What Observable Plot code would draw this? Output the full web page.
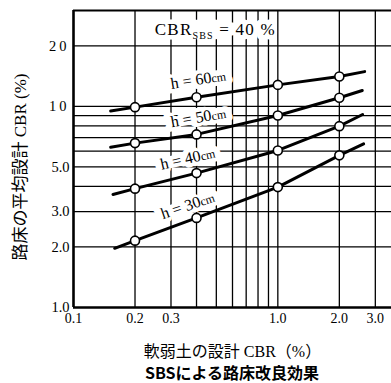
<!DOCTYPE html>
<html>
<head>
<meta charset="utf-8">
<script src="https://cdn.jsdelivr.net/npm/d3@7"></script>
<script src="https://cdn.jsdelivr.net/npm/@observablehq/plot@0.6"></script>
<style>
  body { margin: 0; background: #fff; }
  #caption { width: 391px; box-sizing: border-box; padding-left: 73px; text-align: center;
    font-family: "Noto Sans CJK JP", sans-serif; font-weight: bold; font-size: 16px;
    line-height: 20px; color: #000; }
</style>
</head>
<body>
<div id="chart"></div>
<div id="caption">SBSによる路床改良効果</div>
<script>
// ---- data ----
const xTicks = [0.1, 0.2, 0.3, 0.5, 1, 2, 3];
const yTicks = [1, 2, 3, 5, 10, 20];
const xGrid = [0.2, 0.3, 0.4, 0.5, 0.6, 0.7, 0.8, 0.9, 1, 2, 3];
const yGrid = [2, 3, 4, 5, 6, 7, 8, 9, 10, 20];

const softCBR = [0.2, 0.4, 1.0, 2.0];          // 軟弱土の設計CBR at the circles
const h30 = [2.15, 2.79, 3.97, 5.71];
const h40 = [3.90, 4.66, 6.04, 7.98];
const h50 = [6.57, 7.26, 9.02, 11.05];
const h60 = [9.92, 11.1, 12.8, 14.1];

const seriesNames = ["30", "40", "50", "60"];
const seriesValues = [h30, h40, h50, h60];
const startX = [0.159, 0.156, 0.152, 0.152];
const startY = [1.97, 3.65, 6.27, 9.48];
const endX = [2.63, 2.60, 2.59, 2.66];
const endY = [6.52, 9.12, 12.0, 14.9];

const labelX = [0.362, 0.362, 0.408, 0.408];
const labelY = [3.22, 5.51, 8.82, 13.6];
const labelAngle = [-19, -13, -10, -9];

const noteText = ["CBRSBS = 40 %"];
const noteX = [0.25];
const noteY = [24];

const xTitle = "軟弱土の設計 CBR（%）";
const yTitle = "路床の平均設計 CBR (%)";

// ---- tables ----
const lines = [];
const points = [];
seriesNames.forEach((h, i) => {
  lines.push({h, x: startX[i], y: startY[i]});
  softCBR.forEach((x, j) => {
    lines.push({h, x, y: seriesValues[i][j]});
    points.push({h, x, y: seriesValues[i][j]});
  });
  lines.push({h, x: endX[i], y: endY[i]});
});
const labels = seriesNames.map((h, i) => ({text: `h = ${h}cm`, x: labelX[i], y: labelY[i], a: labelAngle[i]}));
const notes = noteText.map((t, i) => ({text: t, x: noteX[i], y: noteY[i]}));

const serif = "'Liberation Serif', 'Noto Sans CJK JP', serif";
const noteOpts = {x: "x", y: "y", text: "text", textAnchor: "start", fontSize: 17};
const labelOpts = {x: "x", y: "y", text: "text", rotate: "a", fontSize: 16};

const chart = Plot.plot({
  width: 391,
  height: 362,
  marginLeft: 73,
  marginRight: 0,
  marginTop: 10,
  marginBottom: 55,
  style: {fontFamily: serif, fontSize: "14px", color: "#000", background: "#fff"},
  x: {type: "log", domain: [0.1, 3.6]},
  y: {type: "log", domain: [1, 30]},
  marks: [
    Plot.ruleX(xGrid, {stroke: "#000", strokeWidth: 1.3}),
    Plot.ruleY(yGrid, {stroke: "#000", strokeWidth: 1.3}),
    Plot.ruleY([30], {stroke: "#000", strokeWidth: 2}),
    Plot.ruleX([0.1], {stroke: "#000", strokeWidth: 2.6}),
    Plot.ruleY([1], {stroke: "#000", strokeWidth: 2.6}),
    // white knock-out behind the annotations (drawn first, left as plain text)
    Plot.text(notes, {...noteOpts, fill: "#fff", stroke: "#fff", strokeWidth: 9, letterSpacing: 1.2}),
    Plot.text(labels, {...labelOpts, fill: "#fff", stroke: "#fff", strokeWidth: 8}),
    // annotations themselves
    Plot.text(notes, {...noteOpts, fill: "#000"}),
    Plot.text(labels, {...labelOpts, fill: "#000"}),
    Plot.line(lines, {x: "x", y: "y", z: "h", stroke: "#000", strokeWidth: 3}),
    Plot.dot(points, {x: "x", y: "y", r: 4.5, fill: "#fff", stroke: "#000", strokeWidth: 1.6}),
    Plot.axisX(xTicks, {tickSize: 0, tickPadding: 6, tickFormat: d3.format(".1f"), label: null, fontSize: 14}),
    Plot.axisY(yTicks, {tickSize: 0, tickPadding: 4, tickFormat: d => d < 10 ? d3.format(".1f")(d) : String(d), label: null, fontSize: 14.5}),
    Plot.text([xTitle], {frameAnchor: "bottom", dy: 44, text: d => d, fontSize: 16, lineAnchor: "middle", textAnchor: "middle"}),
    Plot.text([yTitle], {frameAnchor: "left", dx: -53, dy: 8, rotate: -90, text: d => d, fontSize: 17, lineAnchor: "middle", textAnchor: "middle"})
  ]
});
document.getElementById("chart").appendChild(chart);

// typographic refinements on the visible (black) annotation layer only:
// subscript SBS, smaller "cm"; spaced two-digit tick labels
const svgns = "http://www.w3.org/2000/svg";
const noteSet = new Set(noteText);
const seen = new Set();
chart.querySelectorAll("text").forEach(t => {
  const s = t.textContent;
  const isNote = noteSet.has(s);
  const isLabel = /^h = \d+cm$/.test(s);
  if (!isNote && !isLabel) return;
  if (!seen.has(s)) { seen.add(s); return; }   // first occurrence = knock-out layer, keep plain
  t.textContent = "";
  if (isNote) {
    t.setAttribute("letter-spacing", "1.2");
    const a = document.createElementNS(svgns, "tspan"); a.textContent = "CBR";
    const b = document.createElementNS(svgns, "tspan"); b.textContent = "SBS";
    b.setAttribute("font-size", "10"); b.setAttribute("dy", "4");
    const c = document.createElementNS(svgns, "tspan"); c.textContent = " = 40 %";
    c.setAttribute("dy", "-4");
    t.append(a, b, c);
  } else {
    const a = document.createElementNS(svgns, "tspan"); a.textContent = s.replace("cm", "");
    const b = document.createElementNS(svgns, "tspan"); b.textContent = "cm";
    b.setAttribute("font-size", "12");
    t.append(a, b);
  }
});
chart.querySelectorAll('g[aria-label="y-axis tick label"] text').forEach(t => {
  if (t.textContent.length === 2) t.setAttribute("letter-spacing", "3");
});
</script>
</body>
</html>
